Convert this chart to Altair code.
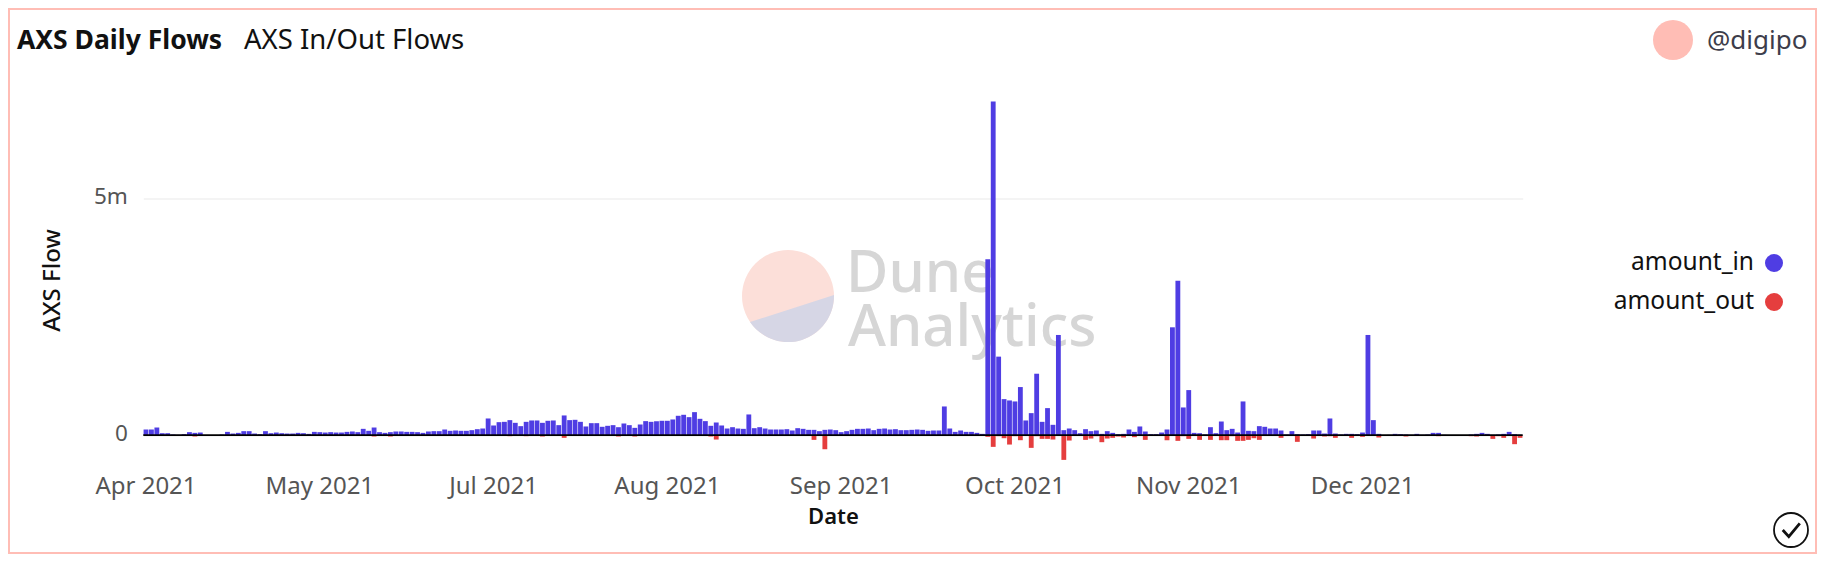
import altair as alt
import pandas as pd

amount_in_k = [
 120,120,162,42,42,14,7,21,64,49,
 56,0,0,0,14,70,35,49,85,85,
 35,21,85,42,56,42,35,35,49,42,
 28,70,64,56,64,56,56,70,78,64,
 134,92,162,64,49,64,78,78,70,70,
 64,49,78,85,85,120,92,99,92,92,
 106,127,141,353,205,275,282,318,261,191,
 282,311,311,261,304,311,212,417,318,325,
 282,184,254,254,177,198,212,169,247,212,
 155,226,297,282,297,304,304,332,410,431,
 381,487,346,297,198,268,205,141,169,141,
 134,438,148,169,141,120,120,120,127,99,
 148,134,113,113,85,113,120,106,64,85,
 113,134,134,141,106,134,141,120,127,106,
 106,113,120,113,92,99,99,607,141,70,
 99,70,70,49,28,3720,7050,1660,762,734,
 713,1017,311,466,1299,282,572,219,2118,106,
 141,106,42,127,85,99,28,85,49,21,
 28,120,70,184,78,21,21,56,120,2280,
 3262,586,953,49,42,14,169,42,289,106,
 134,56,713,92,85,191,177,141,141,99,
 14,85,21,14,21,99,99,35,353,35,
 14,28,28,21,56,2118,318,28,0,7,
 28,21,14,7,28,7,14,49,49,7,
 0,0,0,0,14,28,49,28,7,14,
 28,70,21,7,
]
amount_out_k = [
 0,0,0,0,0,0,0,0,0,-28,
 0,0,0,0,0,0,0,0,-14,0,
 0,0,0,0,0,0,0,0,0,0,
 0,0,0,0,0,0,0,0,0,0,
 0,0,-28,0,-7,-28,0,0,0,0,
 0,0,0,0,0,0,0,0,0,0,
 0,0,0,0,0,0,0,-21,0,0,
 -21,0,0,-28,0,0,0,-56,0,-14,
 0,0,0,0,0,0,0,-28,0,0,
 -28,0,0,0,0,0,0,0,0,0,
 0,0,0,0,-28,-92,0,0,0,0,
 0,0,0,0,0,0,0,0,0,0,
 0,0,0,-99,0,-297,0,0,0,0,
 0,0,0,0,0,0,0,0,0,0,
 0,0,0,0,0,0,0,0,0,0,
 0,0,0,0,0,-35,-247,-21,-64,-198,
 -21,-106,-14,-268,-21,-78,-78,-92,-14,-522,
 -113,-14,0,-99,-71,-21,-148,-71,-56,-28,
 -49,-7,-42,-14,-99,-14,-7,-14,-106,-7,
 -120,-21,-78,-7,-99,0,-99,0,-106,-106,
 -21,-120,-120,-99,-64,-99,0,-7,0,-56,
 0,0,-141,-7,-7,-71,-7,-28,-21,-56,
 -7,-7,-56,-7,-35,-7,0,-49,0,-7,
 0,-7,-28,-7,0,0,-7,-14,-21,-14,
 -14,0,0,-14,-21,-28,-7,-14,-78,-21,
 -56,-14,-190,-56,
]
tick_positions = [0, 32, 64, 96, 128, 160, 192, 224]
tick_labels = ["Apr 2021", "May 2021", "Jul 2021", "Aug 2021", "Sep 2021", "Oct 2021", "Nov 2021", "Dec 2021"]
series = ["amount_in", "amount_out"]
colors = ["#4f3de3", "#e53e3e"]

FONT = "Noto Sans"
LEFT, TOP = 143.3, 94.5
W, H = 1379.4, 388.0
PAGE = 8
RIGHT_EDGE, BOTTOM_EDGE = 1817, 554


def px(x):
    return x - LEFT


def py(y):
    return y - TOP


rows = []
for i, (a, b) in enumerate(zip(amount_in_k, amount_out_k)):
    rows.append({"bar": i, "series": series[0], "v": a * 1000})
    rows.append({"bar": i, "series": series[1], "v": b * 1000})
df = pd.DataFrame(rows)
one = pd.DataFrame({"a": [0]})

label_expr = "{" + ",".join(f"'{p}':'{l}'" for p, l in zip(tick_positions, tick_labels)) + "}[datum.value]"

x_enc = alt.X("bar:O", sort=None, scale=alt.Scale(paddingInner=0.11, paddingOuter=0.05),
              axis=alt.Axis(values=tick_positions, labelExpr=label_expr, labelAngle=0, ticks=False, domain=False,
                            labelFontSize=24, labelColor="#555555", labelFont=FONT, labelPadding=4, labelOverlap=False,
                            labelBaseline="middle", title="Date", titleFont=FONT, titleFontSize=22, titleFontWeight=600,
                            titleColor="#111111", titlePadding=8, grid=False))
y_enc = alt.Y("v:Q", stack="zero", scale=alt.Scale(domain=[-1000000, 7200000], nice=False),
              axis=alt.Axis(values=[0, 5000000], labelExpr="datum.value == 0 ? '0' : '5m'", ticks=False, domain=False,
                            labelFontSize=22.5, labelColor="#555555", labelFont=FONT, labelPadding=16, labelOffset=-2,
                            gridColor="#f0f0f0", gridWidth=1.6, title="AXS Flow", titleFont=FONT, titleFontSize=24,
                            titleFontWeight=500, titleColor="#111111", titleX=px(64), titleY=py(280)))


def text(s, x, y, size, color="#111111", align="left", weight=400, opacity=1.0):
    return alt.Chart(one).mark_text(align=align, baseline="middle", font=FONT, fontSize=size, color=color,
                                    fontWeight=weight, opacity=opacity).encode(
        x=alt.value(px(x)), y=alt.value(py(y)), text=alt.value(s))


def dot(x, y, r, color):
    return alt.Chart(one).mark_point(filled=True, shape="circle", size=(2 * r) ** 2, color=color, opacity=1).encode(
        x=alt.value(px(x)), y=alt.value(py(y)))


frame = alt.Chart(one).mark_rect(fill="white", fillOpacity=0, stroke="#ffbdb5", strokeWidth=2).encode(
    x=alt.value(px(9)), x2=alt.value(px(RIGHT_EDGE - 1)), y=alt.value(py(9)), y2=alt.value(py(BOTTOM_EDGE - 1)))

wm_disc = dot(788, 296, 46, "#fcdfd9")
wm_seg = alt.Chart(one).mark_point(filled=True, opacity=1, color="#d6d6e5", size=92 ** 2,
                                   shape="M-0.826,0.565 A1,1 0 0 0 1,-0.02 Z").encode(
    x=alt.value(px(788)), y=alt.value(py(296)))
wm1 = text("Dune", 846, 275, 58, color="#d6d6d6", weight=500)
wm2 = text("Analytics", 848, 329, 58, color="#d6d6d6", weight=500)

bars = alt.Chart(df).mark_bar().encode(
    x=x_enc, y=y_enc,
    color=alt.Color("series:N", scale=alt.Scale(domain=series, range=colors), legend=None))
base = alt.Chart(one).mark_rule(color="#000000", strokeWidth=1.8).encode(
    y=alt.datum(0), x=alt.value(0), x2=alt.value(W))

check_ring = alt.Chart(one).mark_point(filled=False, shape="circle", size=34 ** 2, color="#111111", strokeWidth=1.8,
                                       opacity=1).encode(x=alt.value(px(1791)), y=alt.value(py(530)))
check_tick = alt.Chart(one).mark_point(filled=False, shape="M-0.75,0 L-0.2,0.6 L0.8,-0.6", size=22 ** 2,
                                       color="#111111", strokeWidth=2.8, opacity=1).encode(
    x=alt.value(px(1791)), y=alt.value(py(530)))

chart = alt.layer(
    frame, wm_disc, wm_seg, wm1, wm2, bars, base,
    text("AXS Daily Flows", 17, 41, 26.5, weight=700),
    text("AXS In/Out Flows", 244, 41, 27.5),
    dot(1673, 40, 20, "#ffbdb5"),
    text("@digipo", 1707, 41, 26, color="#3d3d4a"),
    text("amount_in", 1754, 263, 24.5, align="right"),
    dot(1774, 263, 9, colors[0]),
    text("amount_out", 1754, 302, 24.5, align="right"),
    dot(1774, 302, 9, colors[1]),
    check_ring, check_tick,
).properties(
    width=W, height=H,
    padding={"left": LEFT - PAGE, "top": TOP - PAGE, "right": RIGHT_EDGE - LEFT - W, "bottom": BOTTOM_EDGE - TOP - H},
    autosize=alt.AutoSizeParams(type="none"),
    background="white",
).configure_view(stroke=None)

chart.save("out.html", embed_options={"renderer": "svg", "actions": False})
